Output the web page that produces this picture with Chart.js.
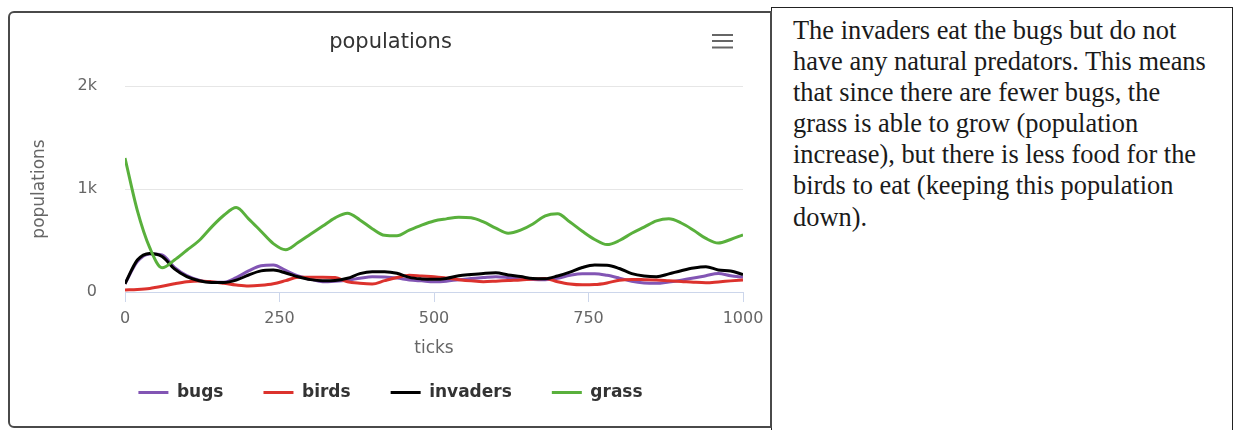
<!DOCTYPE html>
<html>
<head>
<meta charset="utf-8">
<script src="https://cdn.jsdelivr.net/npm/chart.js@4.4.1/dist/chart.umd.min.js"></script>
<style>
  html, body { margin: 0; padding: 0; background: #fff; width: 1236px; height: 430px; overflow: hidden; }
  #chartWrap { position: absolute; left: 10px; top: 14px; width: 761px; height: 412px; z-index: 1; }
  #frame { position: absolute; left: 8px; top: 11px; width: 760px; height: 413px;
           border: 2px solid #4a4a4a; border-radius: 6px 0 0 6px; pointer-events: none; z-index: 3; }
  #menu { position: absolute; left: 711px; top: 33px; width: 23px; height: 17px; z-index: 2; }
  #note { position: absolute; left: 771px; top: 7px; width: 462px; height: 440px;
          border: 1.5px solid #222; border-bottom: none; box-sizing: border-box; z-index: 2; background: transparent; }
  #noteText { position: absolute; left: 793px; top: 15px; z-index: 4; white-space: nowrap;
              font-family: "Liberation Serif", "Times New Roman", serif; font-size: 26.4px; line-height: 31.1px; color: #1a1a1a; }
</style>
</head>
<body>
<div id="chartWrap"><canvas id="c" width="761" height="412"></canvas></div>
<div id="frame"></div>
<svg id="menu" width="23" height="17" viewBox="0 0 23 17">
  <line x1="1" y1="2" x2="22" y2="2" stroke="#666" stroke-width="2"/>
  <line x1="1" y1="8" x2="22" y2="8" stroke="#666" stroke-width="2"/>
  <line x1="1" y1="14.5" x2="22" y2="14.5" stroke="#666" stroke-width="2"/>
</svg>
<div id="note"></div>
<div id="noteText">The invaders eat the bugs but do not<br>have any natural predators. This means<br>that since there are fewer bugs, the<br>grass is able to grow (population<br>increase), but there is less food for the<br>birds to eat (keeping this population<br>down).</div>
<script>
// ---- data ----
const ticks = [0,20,40,60,80,100,120,140,160,180,200,220,240,260,280,300,320,340,360,380,400,420,440,460,480,500,520,540,560,580,600,620,640,660,680,700,720,740,760,780,800,820,840,860,880,900,920,940,960,980,1000];
const bugs = [80,295,370,360,240,160,115,95,95,140,205,255,262,210,155,125,100,105,115,133,148,145,135,117,108,100,105,120,130,140,148,140,128,122,120,133,162,178,178,162,135,105,88,84,98,115,135,158,180,158,143];
const birds = [20,25,35,55,80,100,108,100,85,68,58,65,80,110,143,143,143,140,100,85,78,110,140,163,155,148,135,120,108,100,105,112,117,125,130,100,78,70,72,88,115,122,120,117,110,103,95,90,98,108,117];
const invaders = [80,310,375,345,225,150,110,93,92,115,165,205,213,185,148,120,110,112,133,178,197,197,182,142,127,123,132,158,170,180,186,165,150,130,128,155,193,238,262,260,228,178,155,148,176,207,233,245,214,203,170];
const grass = [1300,790,430,235,310,405,500,630,745,820,710,590,470,410,480,560,640,720,765,700,615,550,545,600,650,690,710,725,720,680,620,570,600,660,740,760,680,590,510,460,500,570,630,690,710,670,600,520,475,510,555];
const seriesNames = ['bugs', 'birds', 'invaders', 'grass'];
const xTickValues = [0, 250, 500, 750, 1000];
const xTickLabels = ['0', '250', '500', '750', '1000'];
const yTickValues = [0, 1000, 2000];
const yTickLabels = ['0', '1k', '2k'];

const FONT = '"DejaVu Sans", "Lucida Grande", sans-serif';
Chart.defaults.font.family = FONT;

const seriesValues = [bugs, birds, invaders, grass];
const seriesColors = ['rgb(130,85,180)', 'rgb(220,50,45)', 'rgb(0,0,0)', 'rgb(89,176,60)'];

const datasets = seriesNames.map((name, k) => ({
  label: name,
  data: ticks.map((t, i) => ({ x: t, y: seriesValues[k][i] })),
  borderColor: seriesColors[k],
  backgroundColor: seriesColors[k],
  borderWidth: 3,
  pointRadius: 0,
  cubicInterpolationMode: 'monotone',
  fill: false,
  order: seriesNames.length - k
}));

new Chart(document.getElementById('c'), {
  type: 'line',
  data: { datasets },
  options: {
    responsive: false,
    animation: false,
    devicePixelRatio: 1,
    layout: { padding: { top: 0, left: 0, right: 0, bottom: 15 } },
    plugins: {
      title: {
        display: true, text: 'populations', color: '#333',
        font: { family: FONT, size: 21, weight: 'normal' },
        padding: { top: 16.4, bottom: 30.4 }
      },
      legend: {
        position: 'bottom',
        labels: {
          usePointStyle: true, pointStyle: 'line', pointStyleWidth: 30,
          padding: 40, color: '#333',
          font: { family: FONT, size: 17, weight: 'bold' },
          sort: (a, b) => a.datasetIndex - b.datasetIndex
        }
      },
      tooltip: { enabled: false }
    },
    scales: {
      x: {
        type: 'linear', min: 0, max: 1000,
        afterBuildTicks: s => { s.ticks = xTickValues.map(v => ({ value: v })); },
        ticks: { color: '#666', font: { size: 16 }, padding: 7, maxRotation: 0, autoSkip: false,
                 callback: (v, i) => xTickLabels[i] },
        grid: { drawOnChartArea: false, drawTicks: true, tickLength: 10, tickColor: '#ccd6eb', tickWidth: 1 },
        border: { display: true, color: '#ccd6eb', width: 1 },
        title: { display: true, text: 'ticks', color: '#666', font: { size: 17 },
                 padding: { top: 3.6, bottom: -15.2 } }
      },
      y: {
        type: 'linear', min: 0, max: 2000,
        afterBuildTicks: s => { s.ticks = yTickValues.map(v => ({ value: v })); },
        afterFit: s => { s.width = 115; },
        ticks: { color: '#666', font: { size: 16 }, padding: 28, callback: (v, i) => yTickLabels[i] },
        grid: { color: '#e6e6e6', lineWidth: 1, drawTicks: false },
        border: { display: false },
        title: { display: true, text: 'populations', color: '#666', font: { size: 17 },
                 padding: { top: 19.8, bottom: 0 } }
      },
      yRight: {
        type: 'linear', position: 'right', display: true,
        grid: { display: false }, border: { display: false }, ticks: { display: false },
        afterFit: s => { s.width = 28; }
      }
    }
  }
});
</script>
</body>
</html>
